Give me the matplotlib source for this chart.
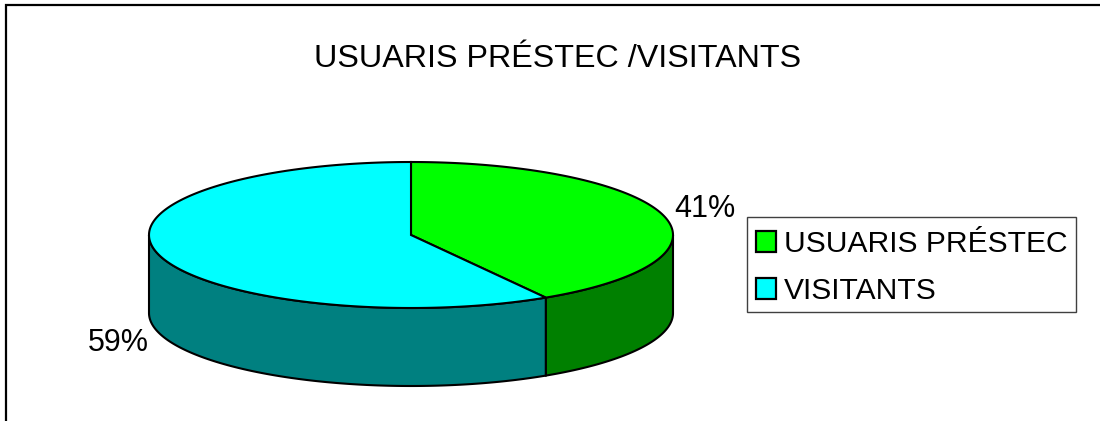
import numpy as np
import matplotlib
matplotlib.use('Agg')
import matplotlib.pyplot as plt
from matplotlib.patches import Rectangle

title = 'USUARIS PRÉSTEC /VISITANTS'
labels = ['USUARIS PRÉSTEC', 'VISITANTS']
values = [41.4, 58.6]
top_colors = ['#00ff00', '#00ffff']
side_colors = ['#008000', '#008080']

plt.rcParams['font.family'] = ['Liberation Sans', 'DejaVu Sans']

# canvas in pixels, y pointing down like the reference
fig = plt.figure(figsize=(11, 4.21), dpi=100)
ax = fig.add_axes([0, 0, 1, 1])
ax.set_xlim(0, 1100)
ax.set_ylim(421, 0)
ax.axis('off')

cx, cy = 411, 235
rx, ry = 262, 73
depth = 78


def rim(a0, a1):
    t = np.radians(np.linspace(a0, a1, 200))
    return cx + rx * np.sin(t), cy - ry * np.cos(t)


# outer frame
ax.plot([6, 6, 1100], [421, 5, 5], color='black', lw=1.6, solid_joinstyle='miter')

# slices run clockwise from 12 o'clock
angles = np.concatenate([[0], np.cumsum(values) / np.sum(values) * 360])

for i in range(len(values)):
    a0, a1 = angles[i], angles[i + 1]
    # side wall only where the rim faces the viewer
    s0, s1 = max(a0, 90), min(a1, 270)
    if s1 > s0:
        x, y = rim(s0, s1)
        ax.fill(np.r_[x, x[::-1]], np.r_[y, y[::-1] + depth],
                facecolor=side_colors[i], edgecolor='black', lw=1.5)

for i in range(len(values)):
    x, y = rim(angles[i], angles[i + 1])
    ax.fill(np.r_[cx, x], np.r_[cy, y], facecolor=top_colors[i],
            edgecolor='black', lw=1.5)

ax.text(558, 67, title, fontsize=23.2, ha='center', va='baseline')
ax.text(705, 217, '%.0f%%' % values[0], fontsize=22, ha='center', va='baseline')
ax.text(118.5, 351, '%.0f%%' % values[1], fontsize=22, ha='center', va='baseline')

# legend box
ax.add_patch(Rectangle((747, 217), 329, 95, facecolor='white', edgecolor='#404040', lw=1))
for lab, col, base in zip(labels, top_colors, [252, 299]):
    ax.add_patch(Rectangle((756, base - 21), 20, 21, facecolor=col, edgecolor='black', lw=1.6))
    ax.text(784, base, lab, fontsize=21.6, ha='left', va='baseline')

plt.savefig('out.png', dpi=100)
